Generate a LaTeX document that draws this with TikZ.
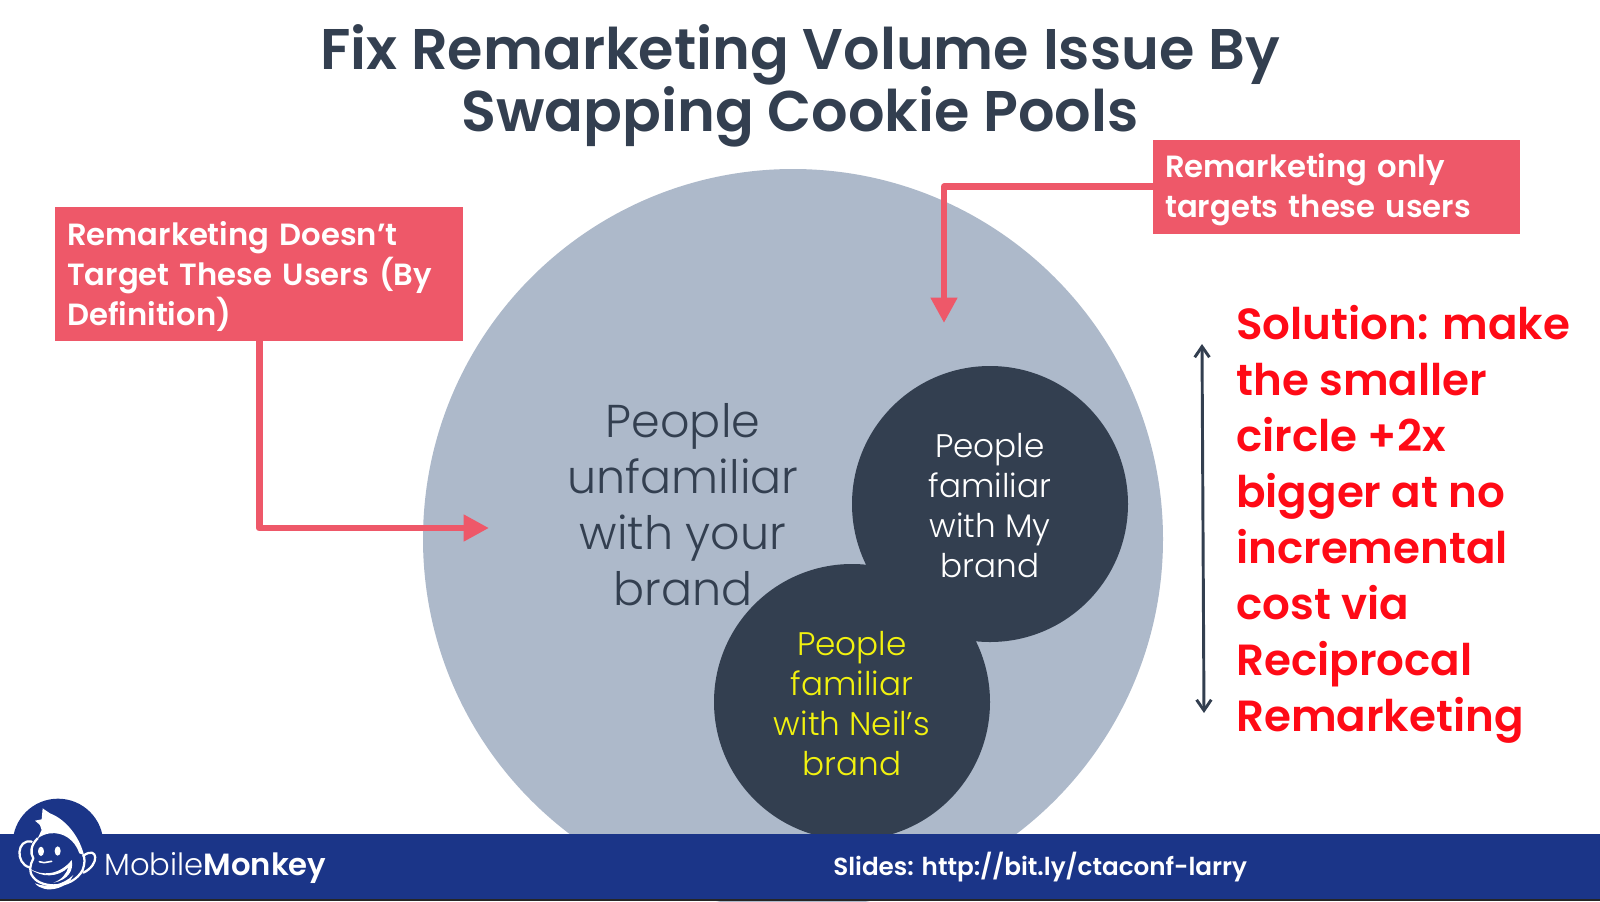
\documentclass[tikz,border=0pt]{standalone}
\usepackage{fontspec}
\setmainfont{Poppins}
\newfontfamily\lightfont{Poppins}[UprightFont={* Light}]
\newfontfamily\semifont{Poppins}[UprightFont={* SemiBold}]
\usepackage{xcolor}
\usetikzlibrary{positioning, arrows.meta}
\definecolor{mmslate}{HTML}{333F50}
\definecolor{mmgrey}{HTML}{ADB9CA}
\definecolor{mmrose}{HTML}{EE5869}
\definecolor{mmnavy}{HTML}{1B3588}
\definecolor{mmred}{HTML}{FF0A16}
\definecolor{mmyellow}{HTML}{F2F20F}
\newcommand{\pxfont}[2]{\fontsize{#1pt}{#2pt}\selectfont}
\newcommand{\calloutdrop}{\rule{0pt}{22pt}}

\begin{document}
\begin{tikzpicture}[
  x=0.75pt, y=-0.75pt,
  disc/.style={circle, fill=mmslate, inner sep=0pt, minimum size=207pt},
  disclabel/.style={align=center, inner sep=0pt, font=\lightfont\pxfont{24.5}{30}},
  callout/.style={fill=mmrose, text=white, align=left, inner xsep=9pt, inner ysep=0pt, anchor=north west, font=\semifont\pxfont{23}{30}},
  pointer/.style={draw=mmrose, line width=5.2pt, line join=round, -{Triangle[length=19pt, width=19pt]}},
  span/.style={draw=mmslate, line width=2.2pt, {Straight Barb[length=8pt, width=11pt]}-{Straight Barb[length=8pt, width=11pt]}},
  monkey/.style={draw=white, line width=1.7pt, line cap=round, line join=round},
]
  \useasboundingbox (0,0) rectangle (1600,901);

  % Circles first, footer hides the bottom of them.
  \node[circle, fill=mmgrey, inner sep=0pt, minimum size=555pt] (everyone) at (793,539) {};
  \node[disc] (mine) at (990,504) {};
  \node[disc] (neil) at (852,702) {};
  \node[disclabel, text=white] (minelabel) at (990,506) {People\\familiar\\with My\\brand};
  \node[disclabel, text=mmyellow] (neillabel) at (852,703.5) {People\\familiar\\with Neil’s\\brand};
  \node[align=center, text=mmslate, inner sep=0pt, font=\lightfont\pxfont{34.5}{42}] (unfamiliar) at (683,505) {People\\unfamiliar\\with your\\brand};

  \node[align=center, text=mmslate, inner sep=0pt, font=\semifont\pxfont{43}{46}] (title) at (800,86) {Fix Remarketing Volume Issue By\\Swapping Cookie Pools};

  \node[callout, minimum width=306pt, minimum height=100pt, text width=288pt] (missed) at (55,207) {\calloutdrop Remarketing Doesn’t\\Target These Users (By\\Definition)};
  \node[callout, minimum width=275pt, minimum height=70pt, text width=257pt] (targeted) at (1153,140) {\calloutdrop Remarketing only\\targets these users};

  \coordinate (missedtip) at (489,528);
  \coordinate (targetedtip) at (944,323);
  \draw[pointer] (missed.south) |- (missedtip);
  \draw[pointer] (targeted.west) -| (targetedtip);

  \coordinate (spantop) at (1202,344);
  \coordinate (spanbot) at (1204,713);
  \draw[span] (spantop) -- (spanbot);

  \node[anchor=north west, align=left, text=mmred, inner sep=0pt, font=\semifont\pxfont{32.7}{42}] (solution) at (1236,305) {Solution: make\\the smaller\\circle +2x\\bigger at no\\incremental\\cost via\\Reciprocal\\Remarketing};

  % Footer with logo.
  \fill[black!85] (0,897) rectangle (1600,901);
  \node[circle, fill=mmnavy, inner sep=0pt, minimum size=68pt] (dome) at (58,844) {};
  \fill[mmnavy] (0,834) rectangle (1600,899);
  \node[anchor=base west, text=white, inner sep=0pt] (brand) at (104,875) {{\lightfont\pxfont{23}{23}Mobile}{\semifont\pxfont{23}{23}Monkey}};
  \node[anchor=base west, text=white, inner sep=0pt, font=\semifont\pxfont{18.5}{20}] (slides) at (833,875) {Slides: http://bit.ly/ctaconf-larry};

  % Monkey, traced in crop units (1/3 px).
  \begin{scope}[shift={(0,790)}, x=0.25pt, y=-0.25pt]
    \fill[white] (105,92) -- (125,88) -- (128,55) -- (150,70) .. controls (190,85) and (235,130) .. (252,195) -- (238,190) .. controls (225,150) and (190,125) .. (150,130) .. controls (135,132) and (125,137) .. (113,145) -- (125,120) -- (120,105) -- cycle;
    \draw[monkey] (95,155) .. controls (50,145) and (45,220) .. (88,232);
    \draw[monkey] (250,197) .. controls (295,165) and (300,225) .. (250,248);
    \draw[monkey] (113,145) .. controls (92,165) and (90,190) .. (100,205) .. controls (90,225) and (85,245) .. (100,262) .. controls (125,295) and (215,300) .. (248,240) .. controls (255,220) and (255,205) .. (250,195);
    \fill[white] (123,184) ellipse [x radius=9, y radius=14];
    \fill[white] (173,183) ellipse [x radius=9, y radius=14];
    \draw[monkey, line width=1.2pt] (118,215) -- (132,218) -- (155,214);
    \fill[white] (88,235) .. controls (125,260) and (180,255) .. (215,210) .. controls (222,240) and (205,270) .. (160,278) .. controls (185,270) and (200,250) .. (205,232) .. controls (175,262) and (125,265) .. (88,235) -- cycle;
    \fill[white] (105,280) .. controls (140,295) and (190,285) .. (220,255) .. controls (205,295) and (135,315) .. (105,280) -- cycle;
  \end{scope}
\end{tikzpicture}
\end{document}
